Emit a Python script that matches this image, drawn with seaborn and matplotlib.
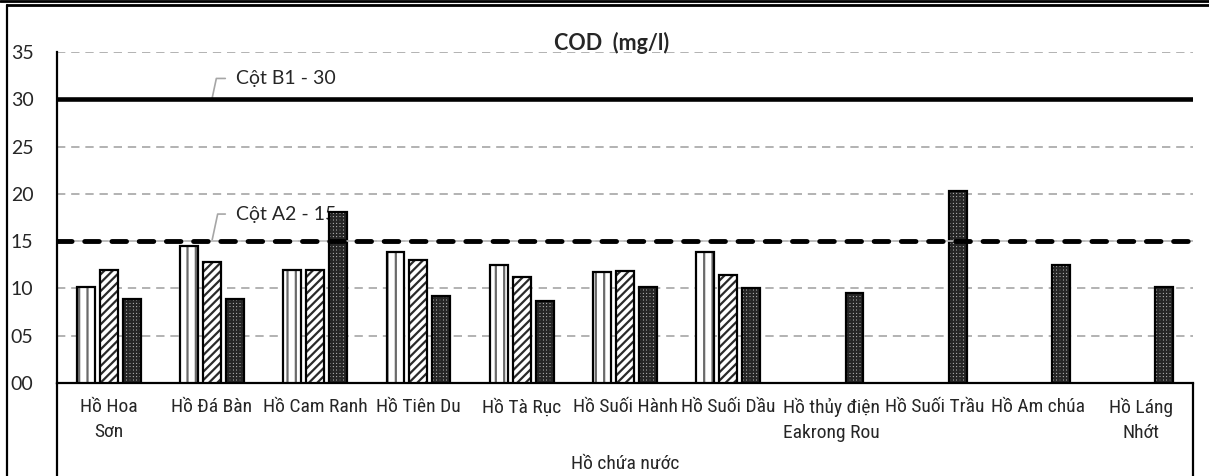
import numpy as np
import pandas as pd
import seaborn as sns
import matplotlib.pyplot as plt
from matplotlib.lines import Line2D
from matplotlib.patches import Rectangle


# Lakes (x categories) and the three monitoring rounds (hue)
LAKES = [
    'Hồ Hoa\nSơn', 'Hồ Đá Bàn', 'Hồ Cam Ranh', 'Hồ Tiên Du', 'Hồ Tà Rục',
    'Hồ Suối Hành', 'Hồ Suối Dầu', 'Hồ thủy điện\nEakrong Rou',
    'Hồ Suối Trầu', 'Hồ Am chúa', 'Hồ Láng\nNhớt',
]
ROUNDS = ['Đợt 1', 'Đợt 2', 'Đợt 3']

nan = np.nan
ROUND_1 = [10.1, 14.5, 12.0, 13.9, 12.5, 11.7, 13.9, nan, nan, nan, nan]
ROUND_2 = [11.9, 12.8, 12.0, 13.0, 11.2, 11.8, 11.4, nan, nan, nan, nan]
ROUND_3 = [8.9, 8.9, 18.1, 9.2, 8.7, 10.1, 10.0, 9.5, 20.3, 12.5, 10.2]

LIMIT_A2 = 15
LIMIT_B1 = 30
Y_TICKS = [0, 5, 10, 15, 20, 25, 30, 35]

NARROW = ['Roboto Condensed', 'Lato', 'DejaVu Sans']


def main():
    sns.set_style('white')
    plt.rcParams['font.family'] = ['Lato', 'DejaVu Sans']
    plt.rcParams['hatch.linewidth'] = 1.6

    df = pd.DataFrame({'lake': LAKES, 'Đợt 1': ROUND_1, 'Đợt 2': ROUND_2, 'Đợt 3': ROUND_3})
    df = df.melt(id_vars='lake', var_name='round', value_name='cod')

    fig = plt.figure(figsize=(12.09, 4.76), dpi=100)
    ax = fig.add_axes([57 / 1209, 93 / 476, 1136 / 1209, 331 / 476])

    sns.barplot(
        data=df, x='lake', y='cod', hue='round',
        order=LAKES, hue_order=ROUNDS,
        width=0.667, gap=0.22, errorbar=None, legend=False,
        palette=['white', 'white', '#cfcfcf'], ax=ax, zorder=3,
    )

    # bar patterns: hatch drawn in its own colour, black outline on top
    patterns = [('||', '#6a6a6a'), ('////', '#2a2a2a'), ('+++++', '#262626')]
    for container, (hatch, hcolor) in zip(ax.containers, patterns):
        for bar in container:
            if np.isnan(bar.get_height()) or bar.get_height() == 0:
                continue
            bar.set_hatch(hatch)
            bar.set_edgecolor(hcolor)
            bar.set_linewidth(0)
            ax.add_patch(Rectangle(bar.get_xy(), bar.get_width(), bar.get_height(),
                                   fill=False, edgecolor='black', linewidth=1.6, zorder=4))

    # limit lines (QCVN column A2 and B1)
    ax.axhline(LIMIT_B1, color='black', linewidth=3.3, zorder=5)
    ax.axhline(LIMIT_A2, color='#bfbfbf', linewidth=1.2, zorder=5)
    ax.axhline(LIMIT_A2, color='black', linewidth=3.5, linestyle=(0, (3, 2.6)),
               dash_capstyle='round', zorder=5)

    leader = dict(arrowstyle='-', color='#a6a6a6', linewidth=1.2, relpos=(0, 0.5),
                  connectionstyle='angle,angleA=0,angleB=78,rad=0', shrinkA=5, shrinkB=0)
    ax.annotate('Cột B1 - 30', xy=(1, LIMIT_B1), xytext=(17, 15), textcoords='offset points',
                ha='left', va='center', fontsize=14, arrowprops=leader, zorder=2)
    ax.annotate('Cột A2 - 15', xy=(1, LIMIT_A2), xytext=(17, 19.5), textcoords='offset points',
                ha='left', va='center', fontsize=14, arrowprops=leader, zorder=2)

    ax.set_ylim(0, 35)
    ax.set_xlim(-0.5, len(LAKES) - 0.5)
    ax.set_yticks(Y_TICKS)
    ax.set_yticklabels([f'{t:02d}' for t in Y_TICKS])
    ax.tick_params(axis='y', length=0, pad=17, labelsize=14)
    ax.tick_params(axis='x', length=0, pad=11, labelsize=14)
    for label in ax.get_xticklabels():
        label.set_linespacing(1.45)
        label.set_family(NARROW)

    ax.yaxis.grid(True, color='#a6a6a6', linewidth=1.2, linestyle=(0, (5, 3.5)))
    ax.set_axisbelow(True)
    for side in ['top', 'right']:
        ax.spines[side].set_visible(False)
    for side in ['left', 'bottom']:
        ax.spines[side].set_color('black')
        ax.spines[side].set_linewidth(1.6)

    ax.set_title('COD  (mg/l)', fontsize=15.5, fontweight='bold', pad=1.5, x=0.488)
    ax.set_xlabel('Hồ chứa nước', fontsize=14, family=NARROW, va='center')
    ax.xaxis.set_label_coords(0.5, -81 / 331)
    ax.set_ylabel('')

    # chart frame: double top rule, outer left edge, box round the category area
    pos = ax.get_position()
    fig.add_artist(Line2D([0, 1], [0.997, 0.997], color='black', linewidth=2, transform=fig.transFigure))
    fig.add_artist(Line2D([7 / 1209, 1], [0.989, 0.989], color='black', linewidth=2, transform=fig.transFigure))
    fig.add_artist(Line2D([7 / 1209, 7 / 1209], [0, 0.989], color='black', linewidth=1.6, transform=fig.transFigure))
    fig.add_artist(Line2D([pos.x0, pos.x0], [0, pos.y0], color='black', linewidth=1.6, transform=fig.transFigure))
    fig.add_artist(Line2D([pos.x1, pos.x1], [0, pos.y0], color='black', linewidth=1.6, transform=fig.transFigure))

    fig.savefig('out.png', dpi=100)


if __name__ == '__main__':
    main()
